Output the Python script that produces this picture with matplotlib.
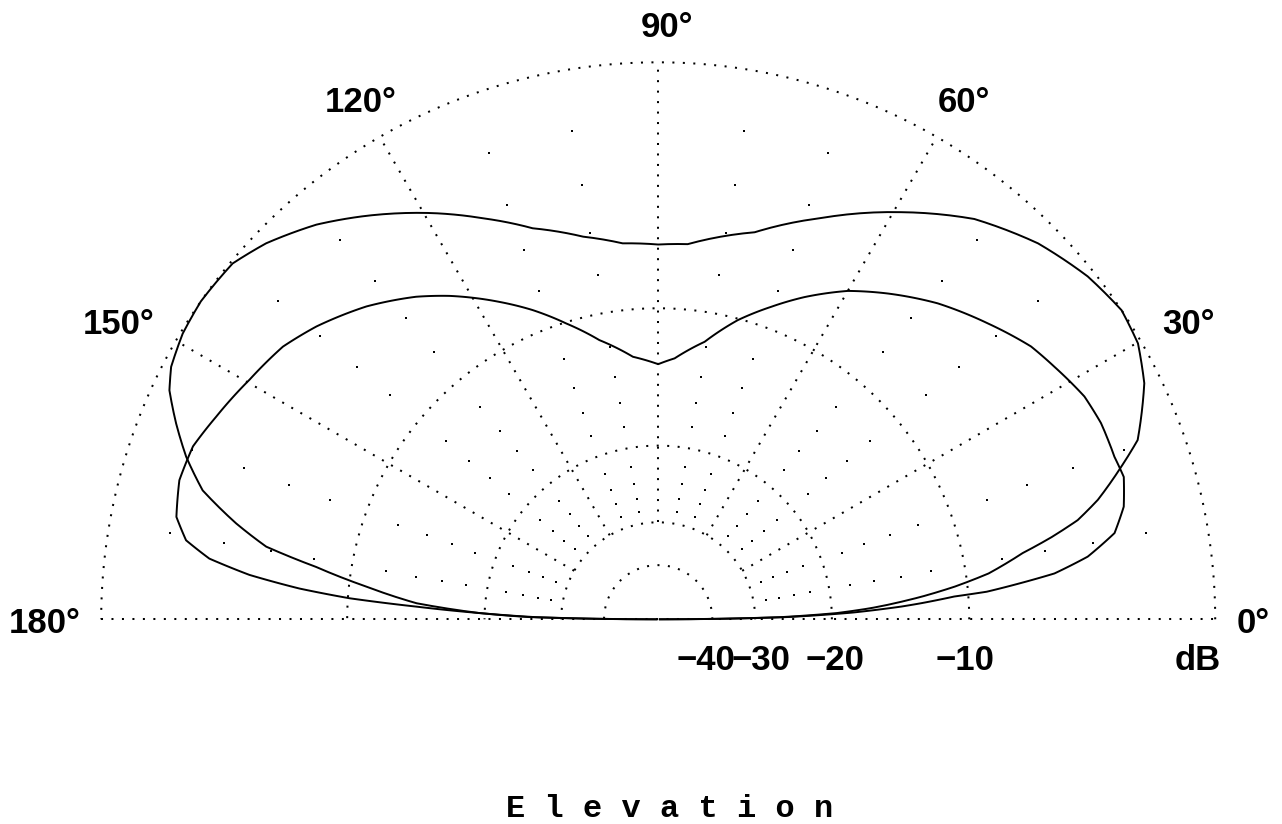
import numpy as np
import matplotlib
matplotlib.use("Agg")
import matplotlib.pyplot as plt

# ---------------- data (elevation angle in degrees, gain in dB) ----------------
outer_ang = [0, 1, 2, 3, 3.6, 4.9, 6.3, 7.9, 10.3, 11.8, 13.3, 15.2, 18.2, 20.5,
             25.9, 29.9, 33.7, 38.6, 44.7, 51.7, 59.2, 67.9, 76.0, 85.5, 90,
             95.4, 101.1, 107.8, 113.6, 119.0, 125.9, 130.9, 136.2, 140.1, 145.2,
             149.0, 152.6, 154.9, 157.9, 161.0, 164.2, 167.2, 169.5, 171.3, 173.6,
             176.2, 178, 179, 180]
outer_db = [-100, -26, -19.5, -16.5, -15.2, -12.8, -10.7, -8.8, -7.0, -5.6, -4.4,
            -3.45, -2.3, -1.45, -0.52, -0.11, 0.0, -0.23, -0.71, -1.51, -2.77,
            -4.32, -5.73, -6.73, -6.8, -6.67, -6.12, -5.23, -4.14, -3.12, -1.92,
            -1.11, -0.43, -0.07, 0.0, -0.07, -0.26, -0.54, -1.17, -1.88, -2.79,
            -4.33, -5.74, -8.17, -10.98, -14.3, -19.5, -26, -100]

inner_ang = [0, 1, 2, 3, 3.5, 4.4, 4.8, 5.7, 6.6, 8.3, 10.7, 13.6, 17.0, 19.6,
             23.9, 27.6, 32.5, 36.2, 41.9, 48.5, 54.8, 60.0, 65.6, 70.1, 75.1,
             80.5, 86.4, 90, 95.5, 101.9, 107.3, 112.1, 116.6, 122.8, 126.9,
             133.0, 139.4, 144.0, 149.6, 155.4, 159.6, 163.8, 168.0, 170.5,
             172.3, 173.8, 175.1, 176.1, 177.0, 178, 179, 180]
inner_db = [-100, -25, -18, -14.2, -12.85, -10.8, -9.0, -7.3, -5.73, -4.28, -3.12,
            -2.59, -2.31, -2.40, -2.40, -2.52, -2.92, -3.21, -3.93, -4.77, -5.74,
            -6.6, -7.79, -8.86, -10.08, -11.72, -12.98, -13.4, -12.83, -11.48,
            -10.06, -8.79, -7.73, -6.35, -5.54, -4.53, -3.66, -3.14, -2.78, -2.33,
            -1.98, -1.90, -2.11, -2.60, -3.55, -5.21, -7.49, -10.09, -14.3, -19.5,
            -25, -100]

ring_db = [0, -10, -20, -30, -40]
spoke_deg = [30, 60, 90, 120, 150]
dot_deg = [10, 20, 40, 50, 70, 80, 100, 110, 130, 140, 160, 170]
dot_db = [-2, -4, -6, -8, -12, -14, -16, -18, -22, -24, -26, -28]
angle_labels = ["0°", "30°", "60°", "90°", "120°", "150°", "180°"]
db_labels = ["−40", "−30", "−20", "−10", "dB"]
title = "E l e v a t i o n"


def rho(db):
    """ARRL log scale: 2 dB per 0.89 factor."""
    return 0.89 ** (-np.asarray(db, dtype=float) / 2.0)


# ---------------- figure / axes geometry ----------------
W, H = 1282, 824
fig = plt.figure(figsize=(W / 100, H / 100), dpi=100)
fig.patch.set_facecolor("white")

cx, cy, R = 658.2, 619.3, 557.0      # pixel centre and 0 dB radius
rmax = 1.03
side = 2 * R * rmax
ax = fig.add_axes([(cx - side / 2) / W, (H - cy - side / 2) / H, side / W, side / H],
                  projection="polar")
ax.set_ylim(0, rmax)
ax.axis("off")

dot_style = dict(color="black", lw=1.45, ls=(0, (1, 4.2)), dash_capstyle="butt",
                 clip_on=False)

# rings
th = np.linspace(0, np.pi, 1441)
for d in ring_db:
    ax.plot(th, np.full_like(th, rho(d)), **dot_style)

# base line (180° .. 0°) through the centre
ax.plot([np.pi, np.pi, 0, 0], [1, 0, 0, 1], **dot_style)

# spokes every 30°
for a in spoke_deg:
    t = np.deg2rad(a)
    ax.plot([t, t], [rho(-30), 1], **dot_style)

# grid points
tt, dd = np.meshgrid(np.deg2rad(dot_deg), dot_db)
ax.plot(tt.ravel(), rho(dd.ravel()), ls="none", marker="s", ms=2.1, mew=0,
        color="black", clip_on=False)

# patterns (segments follow the polar grid between samples)
for ang, db in ((outer_ang, outer_db), (inner_ang, inner_db)):
    ln, = ax.plot(np.deg2rad(ang), rho(db), color="black", lw=1.4, clip_on=False,
                  solid_joinstyle="round")
    ln.get_path()._interpolation_steps = 12

# ---------------- labels ----------------
lab_font = dict(fontsize=25, fontweight="bold",
                family=["Liberation Sans", "DejaVu Sans"], ha="center", va="baseline")
ang_pos = [(1253, 633), (1188, 334), (964, 112), (666.5, 37),
           (361, 112), (119, 334), (45, 633)]
for s, (x, y) in zip(angle_labels, ang_pos):
    fig.text(x / W, 1 - y / H, s, **lab_font)

db_pos = [(706, 670), (761, 670), (835, 670), (965, 670), (1197.5, 670)]
for s, (x, y) in zip(db_labels, db_pos):
    fig.text(x / W, 1 - y / H, s, **lab_font)

fig.text(670 / W, 1 - 817 / H, title, fontsize=23, fontweight="bold",
         family=["Liberation Mono", "DejaVu Sans Mono"], ha="center", va="baseline")

fig.savefig("out.png", dpi=100, facecolor="white")
